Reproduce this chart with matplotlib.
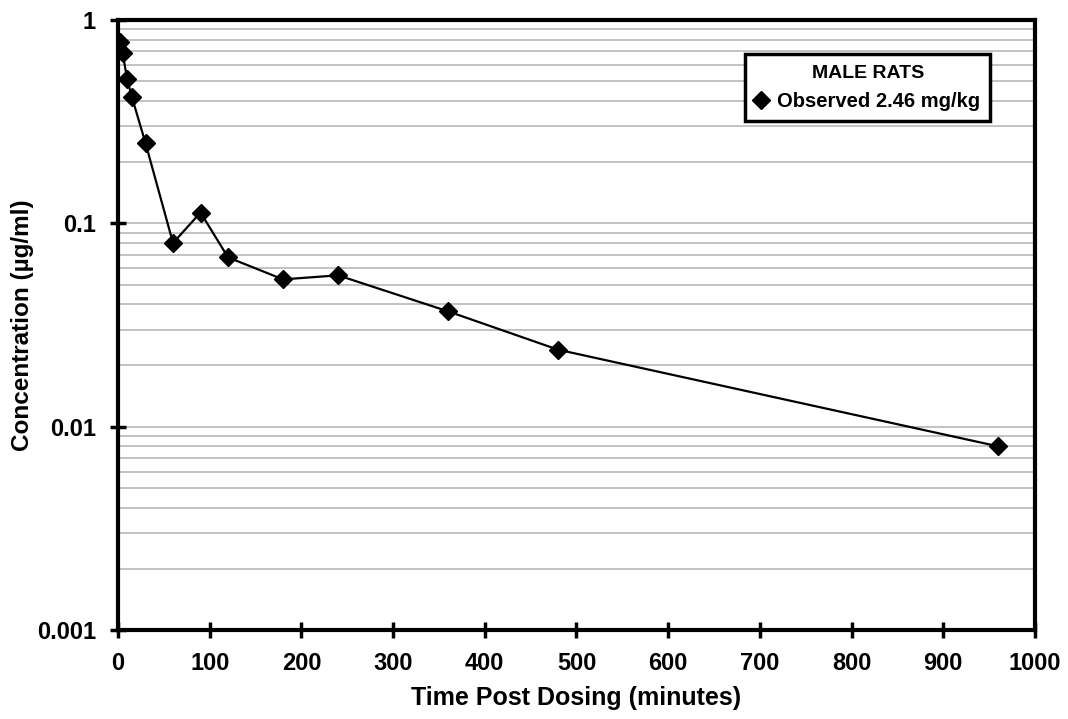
import matplotlib
matplotlib.use("Agg")
import matplotlib.pyplot as plt
from matplotlib.ticker import LogLocator, FixedLocator, NullFormatter

# observed plasma concentration, male rats 2.46 mg/kg
time_min = [2, 5, 10, 15, 30, 60, 90, 120, 180, 240, 360, 480, 960]
conc = [0.78, 0.69, 0.51, 0.42, 0.248, 0.080, 0.113, 0.068, 0.053, 0.0555, 0.0369, 0.0239, 0.0080]

x_ticks = [0, 100, 200, 300, 400, 500, 600, 700, 800, 900, 1000]
y_ticks = [0.001, 0.01, 0.1, 1]
y_labels = ["0.001", "0.01", "0.1", "1"]

plt.rcParams['font.family'] = ['Liberation Sans', 'DejaVu Sans']
plt.rcParams['font.weight'] = 'bold'

fig = plt.figure(figsize=(10.68, 7.19), dpi=100)
ax = fig.add_axes([0.1105, 0.1238, 0.8585, 0.8484])

ax.set_yscale('log')
ax.set_xlim(0, 1000)
ax.set_ylim(0.001, 1)

# gray grid at every minor and major decade step
ax.yaxis.set_minor_locator(LogLocator(base=10, subs=range(2, 10)))
ax.yaxis.set_minor_formatter(NullFormatter())
ax.grid(True, which='both', axis='y', color='#b8b8b8', linewidth=1.2)
ax.tick_params(axis='y', which='minor', length=0)

ax.plot(time_min, conc, color='black', linewidth=1.6, marker='D', markersize=9,
        markerfacecolor='black', markeredgecolor='black', label='Observed 2.46 mg/kg', zorder=3)

ax.xaxis.set_major_locator(FixedLocator(x_ticks))
ax.set_yticks(y_ticks)
ax.set_yticklabels(y_labels)
ax.tick_params(axis='both', which='major', direction='inout', length=12, width=2.5,
               labelsize=17, pad=10)
for lab in ax.get_xticklabels() + ax.get_yticklabels():
    lab.set_fontweight('bold')

for sp in ax.spines.values():
    sp.set_linewidth(3)

ax.set_xlabel('Time Post Dosing (minutes)', fontsize=18, fontweight='bold', labelpad=8)
ax.set_ylabel('Concentration (µg/ml)', fontsize=17.5, fontweight='bold')
ax.yaxis.set_label_coords(-0.092, 0.5)

leg = ax.legend(loc='upper right', bbox_to_anchor=(0.9625, 0.96), title='MALE RATS',
                fancybox=False, framealpha=1, edgecolor='black', handlelength=0.6,
                handletextpad=0.5, borderpad=0.5,
                prop={'size': 14.5, 'weight': 'bold'})
leg.get_title().set_fontweight('bold')
leg.get_title().set_fontsize(14)
leg.get_frame().set_linewidth(2.5)
for h in leg.legend_handles:
    h.set_linestyle('None')

fig.savefig('out.png', dpi=100)
